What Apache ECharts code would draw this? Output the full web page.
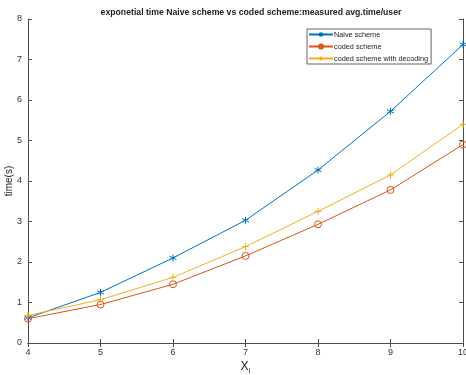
<!DOCTYPE html>
<html><head><meta charset="utf-8">
<script src="https://cdn.jsdelivr.net/npm/echarts@6/dist/echarts.min.js"></script>
<style>html,body{margin:0;padding:0;background:#fff}#c{width:466px;height:375px}</style>
</head><body><div id="c"></div>
<script>
var xValues = [4, 5, 6, 7, 8, 9, 10];
var naive = [0.62, 1.25, 2.10, 3.03, 4.27, 5.72, 7.37];
var coded = [0.60, 0.95, 1.45, 2.15, 2.93, 3.78, 4.90];
var codedDec = [0.68, 1.07, 1.62, 2.38, 3.25, 4.15, 5.40];
var seriesNames = ['Naive scheme', 'coded scheme', 'coded scheme with decoding'];
var titleText = 'exponetial time Naive scheme vs coded scheme:measured avg.time/user';

var colors = ['#0072BD', '#D95319', '#EDB120'];
var starPath = 'path://M0,-5L0,5M-4.3,-2.5L4.3,2.5M-4.3,2.5L4.3,-2.5';
var plusPath = 'path://M0,-5L0,5M-5,0L5,0';
function pairs(v){ return xValues.map(function(x,i){ return [x, v[i]]; }); }

var chart = echarts.init(document.getElementById('c'));
var axisCol = '#4d4d4d';
var txt = '#333';
var font = 'Liberation Sans, Arial, sans-serif';
function mk(name, data, color, symbol, size, fill){
  return {
    name: name, type: 'line', data: pairs(data),
    symbol: symbol, symbolSize: size, showSymbol: true,
    lineStyle: {color: color, width: 1},
    itemStyle: {color: fill, borderColor: color, borderWidth: 1},
    emphasis: {disabled: true}, animation: false
  };
}
chart.setOption({
  animation: false,
  textStyle: {fontFamily: font},
  title: {text: titleText, left: 246, textAlign: 'center', top: 3,
    textStyle: {fontSize: 8.7, fontWeight: 'bold', color: '#222', fontFamily: font}},
  grid: {left: 28, right: 3, top: 19, bottom: 32, containLabel: false, outerBoundsMode: 'none'},
  legend: {
    orient: 'vertical', left: 307, top: 29, padding: [2, 3, 2, 1],
    itemWidth: 24, itemHeight: 5, itemGap: 5,
    backgroundColor: '#fff', borderColor: '#666', borderWidth: 1,
    textStyle: {fontSize: 7.3, color: '#222', fontFamily: font, padding: [0,0,0,-4]},
    data: seriesNames
  },
  xAxis: [{
    type: 'value', min: 4, max: 10, interval: 1, position: 'bottom',
    axisLine: {lineStyle: {color: axisCol, width: 1}},
    axisTick: {inside: true, length: 4, lineStyle: {color: axisCol}},
    axisLabel: {color: txt, fontSize: 9, margin: 5},
    splitLine: {show: false},
    name: 'X{s|i}', nameLocation: 'middle', nameGap: 16, nameMoveOverlap: false,
    nameTextStyle: {color: '#222', fontSize: 12, verticalAlign: 'top', rich: {s: {fontSize: 8, verticalAlign: 'bottom', padding: [8,0,0,0], color: '#222'}}}
  }, {
    type: 'value', min: 4, max: 10, interval: 1, position: 'top',
    axisLine: {lineStyle: {color: axisCol, width: 1}},
    axisTick: {inside: true, length: 4, lineStyle: {color: axisCol}},
    axisLabel: {show: false}, splitLine: {show: false}
  }],
  yAxis: [{
    type: 'value', min: 0, max: 8, interval: 1, position: 'left',
    axisLine: {show: true, lineStyle: {color: axisCol, width: 1}},
    axisTick: {show: true, inside: true, length: 4, lineStyle: {color: axisCol}},
    axisLabel: {color: txt, fontSize: 9, margin: 6},
    splitLine: {show: false},
    name: 'time(s)', nameLocation: 'middle', nameGap: 14, nameRotate: 90, nameMoveOverlap: false,
    nameTextStyle: {color: '#222', fontSize: 10, verticalAlign: 'bottom'}
  }, {
    type: 'value', min: 0, max: 8, interval: 1, position: 'right',
    axisLine: {show: true, lineStyle: {color: axisCol, width: 1}},
    axisTick: {show: true, inside: true, length: 4, lineStyle: {color: axisCol}},
    axisLabel: {show: false}, splitLine: {show: false}
  }],
  series: [
    mk(seriesNames[0], naive, colors[0], starPath, 7, colors[0]),
    mk(seriesNames[1], coded, colors[1], 'circle', 7, 'rgba(255,255,255,0)'),
    mk(seriesNames[2], codedDec, colors[2], plusPath, 7, colors[2])
  ]
});
</script></body></html>
